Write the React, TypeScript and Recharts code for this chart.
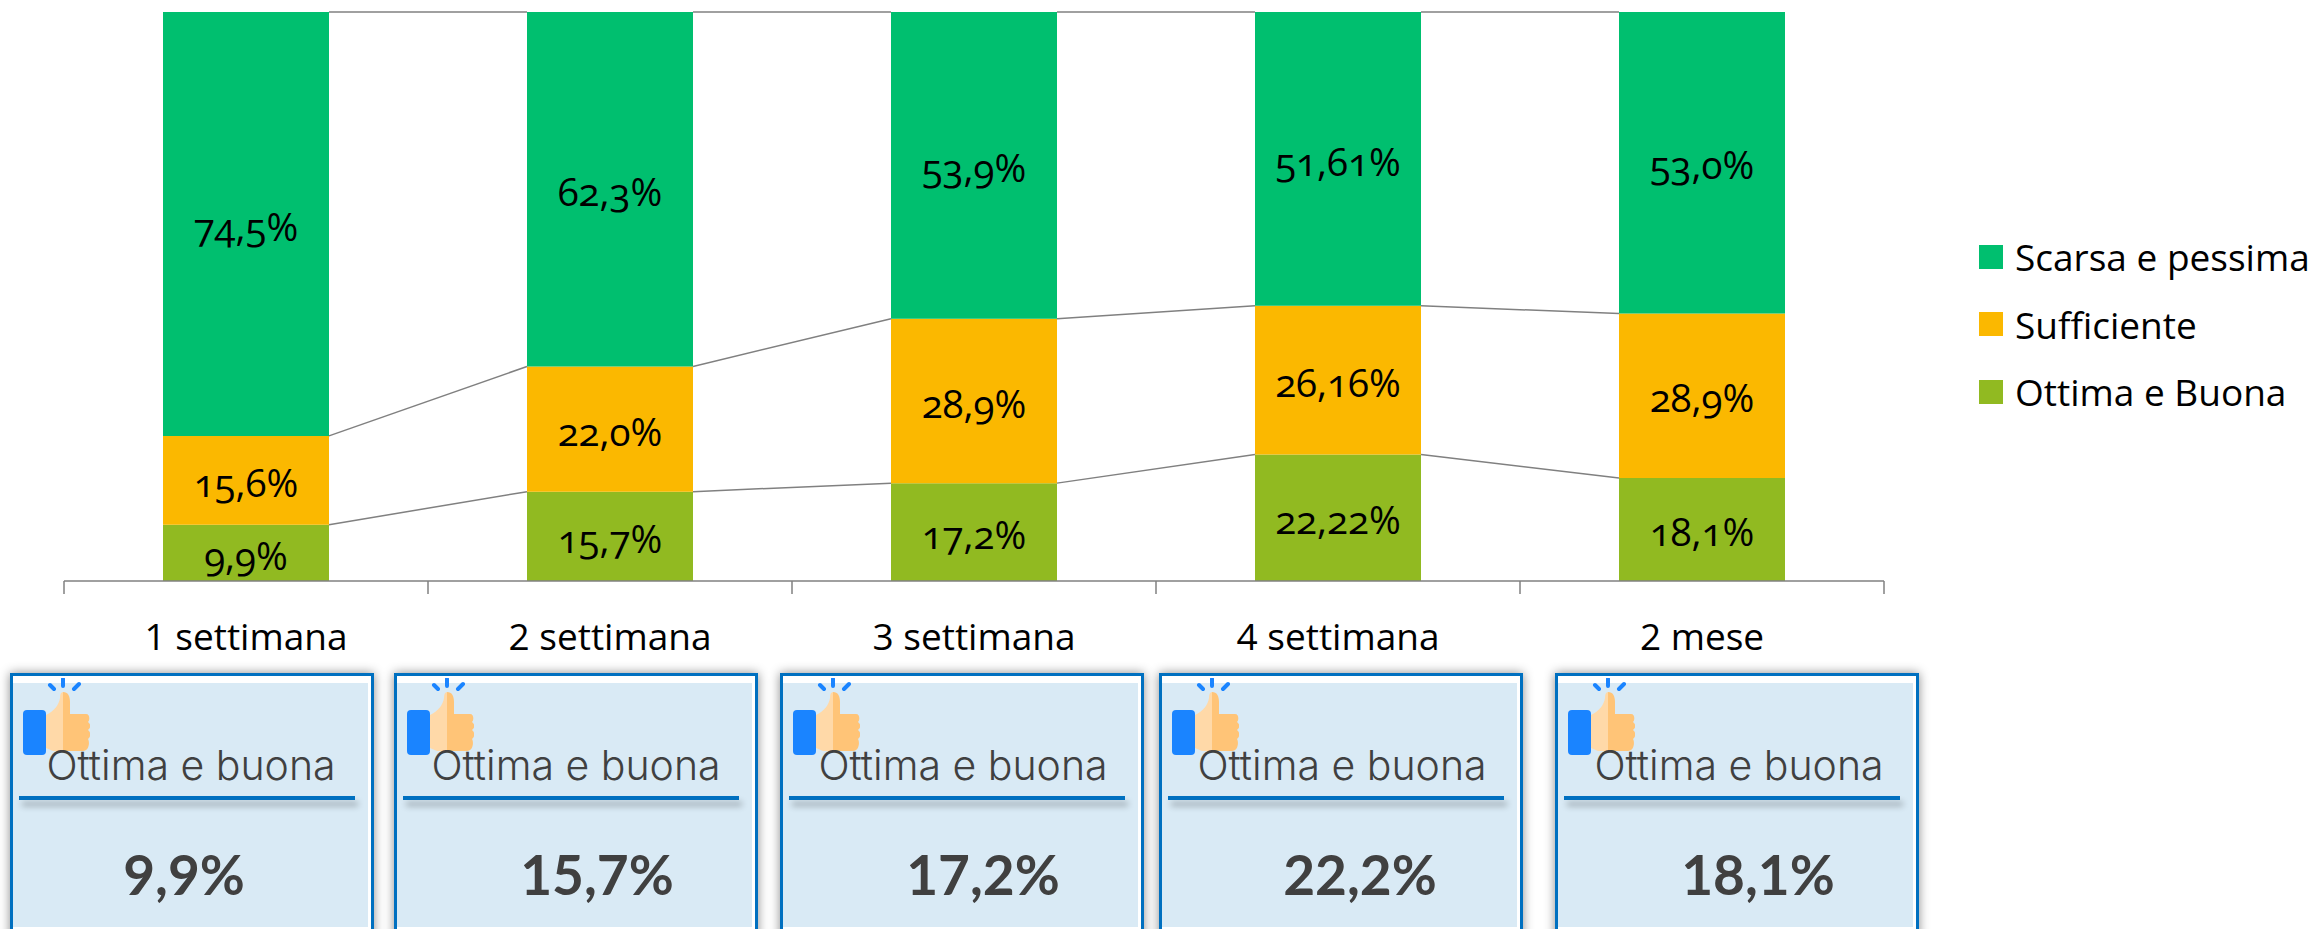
import { BarChart, Bar, XAxis, YAxis, LabelList, Legend, ReferenceLine } from "recharts";

const CATEGORIES = ["1 settimana", "2 settimana", "3 settimana", "4 settimana", "2 mese"];
const OTTIMA = [9.9, 15.7, 17.2, 22.22, 18.1];
const SUFFICIENTE = [15.6, 22.0, 28.9, 26.16, 28.9];
const SCARSA = [74.5, 62.3, 53.9, 51.61, 53.0];
const BOUNDARY_TICKS = [0, 1, 2, 3, 4, 5];
const LEGEND_ORDER = ["Scarsa e pessima", "Sufficiente", "Ottima e Buona"];

const CARD_TITLE = "Ottima e buona";
// left edge of each card, then where its title and value are centred inside it
const CARD_LEFT = [10, 394, 780, 1159, 1555];
const TITLE_CENTER = [178, 179, 180, 180, 181];
const VALUE_CENTER = [171, 200, 200, 198, 200];

const GREEN = "#00BF6F";
const YELLOW = "#FBB800";
const OLIVE = "#91BA21";
const GREY = "#808080";
const BLUE = "#0070C0";
const FONT = "'Open Sans', sans-serif";

const BAR_HALF = 83 / 364;

const chartData = CATEGORIES.map((name, i) => ({
  name,
  slot: i + 0.5,
  ottima: OTTIMA[i],
  sufficiente: SUFFICIENTE[i],
  scarsa: SCARSA[i],
}));

const connectorLevels = [
  OTTIMA,
  OTTIMA.map((v, i) => v + SUFFICIENTE[i]),
  OTTIMA.map(() => 100),
];

const fmt = (v: number) => {
  const oneDecimal = Math.abs(v * 10 - Math.round(v * 10)) < 1e-6;
  return (oneDecimal ? v.toFixed(1) : v.toFixed(2)).replace(".", ",") + "%";
};

const labelStyle = {
  fill: "#000",
  fontFamily: FONT,
  fontSize: 38.5,
  fontVariantNumeric: "oldstyle-nums",
};

function LegendBox({ payload }: any) {
  const items = [...(payload ?? [])].sort(
    (a, b) => LEGEND_ORDER.indexOf(a.value) - LEGEND_ORDER.indexOf(b.value)
  );
  return (
    <div>
      {items.map((it) => (
        <div key={it.value} style={{ display: "flex", alignItems: "center", height: 67.5 }}>
          <span style={{ width: 24, height: 24, background: it.color, marginRight: 12 }} />
          <span style={{ fontFamily: FONT, fontSize: 37, color: "#000", whiteSpace: "nowrap" }}>
            {it.value}
          </span>
        </div>
      ))}
    </div>
  );
}

function Thumb({ left }: { left: number }) {
  return (
    <svg
      width={67}
      height={77}
      viewBox="0 0 67 77"
      style={{ position: "absolute", left: left, top: 2 }}
    >
      <path d="M40 1v7M27 7l4 4M56 6l-5 5" stroke="#1A84FF" strokeWidth={4} strokeLinecap="round" />
      <rect x={0} y={32} width={23} height={45} rx={4} fill="#1A84FF" />
      <path d="M23 37C31 33 36 27 37 20C37 16 38 14 40 14L40 73L30 73L23 70Z" fill="#FFD9A8" />
      <path
        d="M40 14C45 14 47 18 47 24L47 36L63 36C67 36 67 42 65 44C68 46 68 50 65 52C68 54 68 59 65 61C67 64 66 73 60 73L40 73Z"
        fill="#FFC477"
      />
    </svg>
  );
}

function Card({ i }: { i: number }) {
  return (
    <div
      style={{
        position: "absolute",
        left: CARD_LEFT[i],
        top: 673,
        width: 364,
        height: 300,
        boxSizing: "border-box",
        border: `3px solid ${BLUE}`,
        background: "#fff",
        boxShadow: "0 0 10px rgba(0,0,0,0.45)",
      }}
    >
      <div style={{ position: "absolute", left: 0, right: 3, top: 7, height: 244, background: "#D9EAF5" }} />
      <Thumb left={10} />
      <div
        style={{
          position: "absolute",
          left: TITLE_CENTER[i] - 200,
          width: 400,
          top: 65,
          textAlign: "center",
          fontFamily: "Inter, sans-serif",
          fontWeight: 300,
          fontSize: 41,
          lineHeight: "48px",
          color: "#404040",
          whiteSpace: "nowrap",
        }}
      >
        {CARD_TITLE}
      </div>
      <div
        style={{
          position: "absolute",
          left: 6,
          width: 336,
          top: 120,
          height: 4,
          background: BLUE,
          boxShadow: "3px 6px 6px rgba(0,0,0,0.3)",
        }}
      />
      <div
        style={{
          position: "absolute",
          left: VALUE_CENTER[i] - 200,
          width: 400,
          top: 165,
          textAlign: "center",
          fontFamily: "Lato, sans-serif",
          fontWeight: 700,
          fontSize: 55,
          color: "#404040",
        }}
      >
        {OTTIMA[i].toFixed(1).replace(".", ",")}%
      </div>
    </div>
  );
}

export default function App() {
  return (
    <div style={{ position: "absolute", left: 0, top: 0, width: 2320, height: 929, overflow: "hidden", background: "#fff" }}>
      <BarChart
        width={2320}
        height={929}
        data={chartData}
        margin={{ top: 12, right: 436, bottom: 0, left: 64 }}
        barSize={166}
      >
        <XAxis
          xAxisId="boundary"
          dataKey="slot"
          type="number"
          domain={[0, 5]}
          ticks={BOUNDARY_TICKS}
          interval={0}
          tickFormatter={() => ""}
          height={14}
          tickSize={13}
          stroke={GREY}
          strokeWidth={1.5}
          allowDataOverflow
        />
        <XAxis
          xAxisId="names"
          dataKey="name"
          axisLine={false}
          tickLine={false}
          interval={0}
          height={334}
          tickMargin={23}
          tick={{ fill: "#000", fontFamily: FONT, fontSize: 37, fontVariantNumeric: "oldstyle-nums" } as any}
        />
        <YAxis hide domain={[0, 100]} />

        {connectorLevels.map((level, li) =>
          level.slice(0, -1).map((v, i) => (
            <ReferenceLine
              key={`${li}-${i}`}
              xAxisId="boundary"
              segment={[
                { x: i + 0.5 + BAR_HALF, y: v },
                { x: i + 1.5 - BAR_HALF, y: level[i + 1] },
              ]}
              stroke={GREY}
              strokeWidth={1.5}
            />
          ))
        )}

        <Bar xAxisId="names" dataKey="ottima" name="Ottima e Buona" stackId="a" fill={OLIVE} isAnimationActive={false}>
          <LabelList dataKey="ottima" position="center" dy={3} formatter={fmt as any} style={labelStyle as any} />
        </Bar>
        <Bar xAxisId="names" dataKey="sufficiente" name="Sufficiente" stackId="a" fill={YELLOW} isAnimationActive={false}>
          <LabelList dataKey="sufficiente" position="center" dy={3} formatter={fmt as any} style={labelStyle as any} />
        </Bar>
        <Bar xAxisId="names" dataKey="scarsa" name="Scarsa e pessima" stackId="a" fill={GREEN} isAnimationActive={false}>
          <LabelList dataKey="scarsa" position="center" dy={3} formatter={fmt as any} style={labelStyle as any} />
        </Bar>

        <Legend
          layout="vertical"
          align="center"
          verticalAlign="middle"
          content={<LegendBox />}
          wrapperStyle={{ position: "absolute", left: 1979, top: 223, width: 340, margin: 0 }}
        />
      </BarChart>
      {CATEGORIES.map((_, i) => (
        <Card key={i} i={i} />
      ))}
    </div>
  );
}
